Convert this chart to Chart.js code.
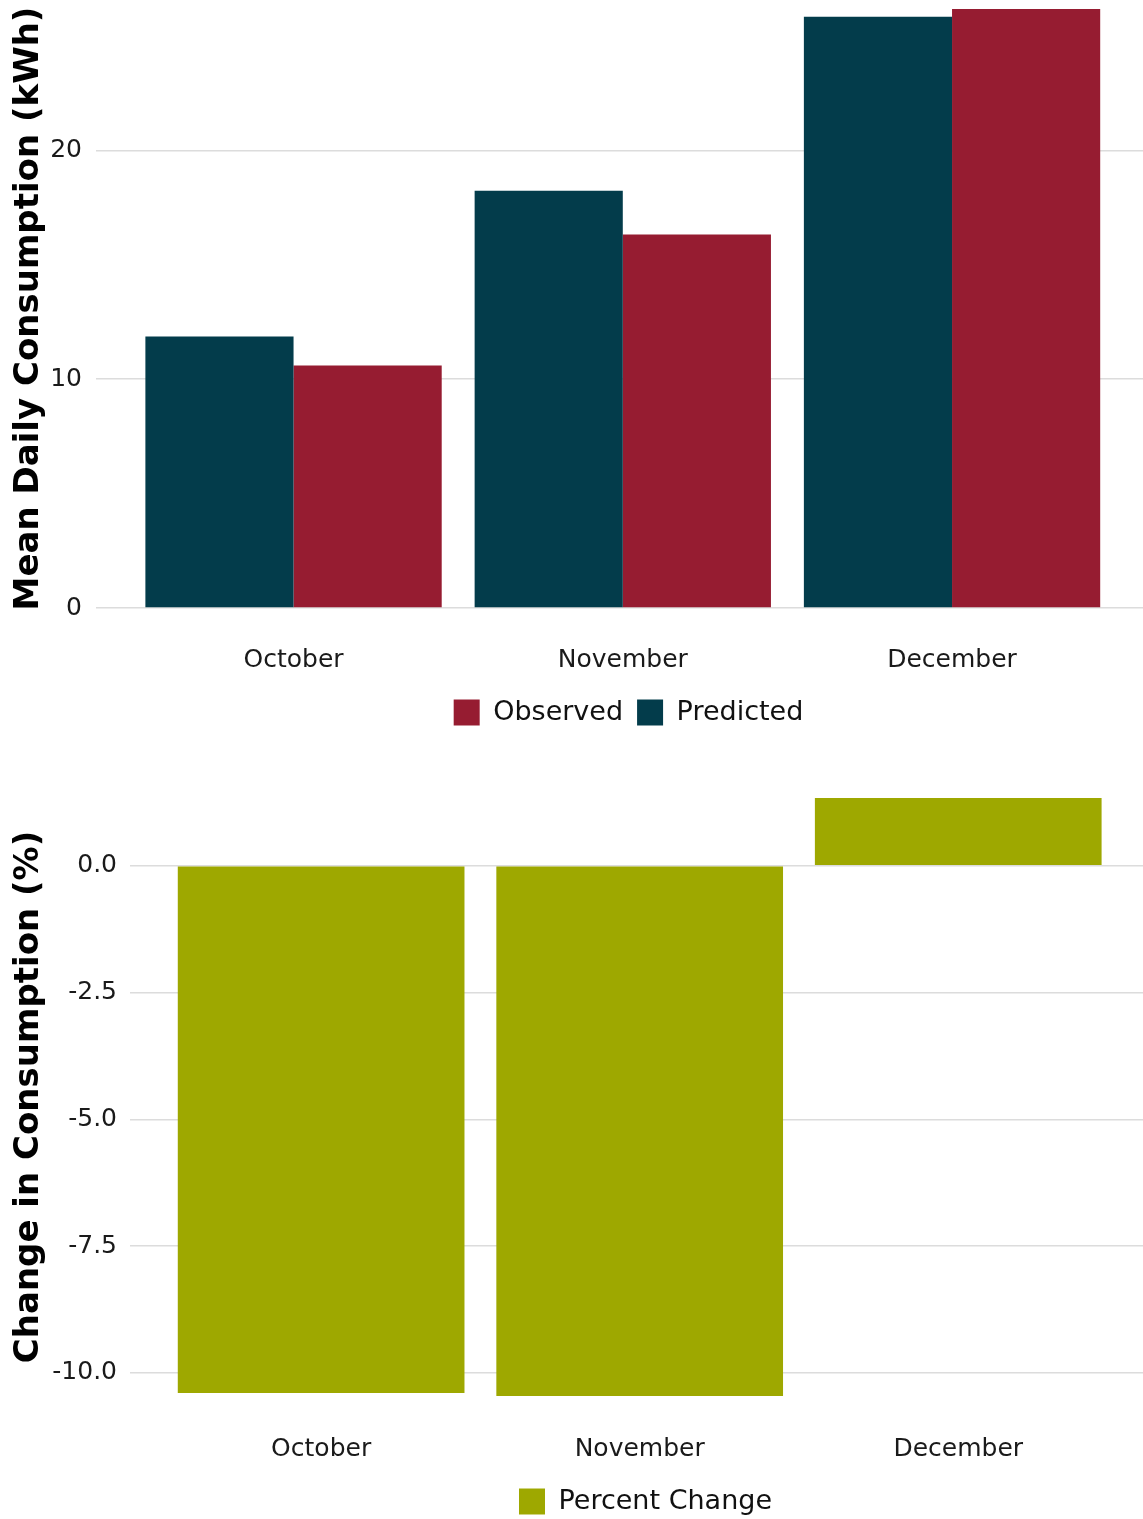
<!DOCTYPE html>
<html>
<head>
<meta charset="utf-8">
<script src="https://cdn.jsdelivr.net/npm/chart.js@4.4.1/dist/chart.umd.min.js"></script>
<style>
  body { margin: 0; background: #fff; overflow: hidden; }
  canvas { position: absolute; left: 0; }
  #consumption { top: 0; }
  #change { top: 736px; }
</style>
</head>
<body>
<canvas id="consumption" width="1143" height="736"></canvas>
<canvas id="change" width="1143" height="789"></canvas>
<script>
const months = ['October', 'November', 'December'];
const predicted = [11.87, 18.24, 25.84];
const observed = [10.60, 16.32, 26.18];
const percentChange = [-10.40, -10.46, 1.34];
const consumptionTicks = [0, 10, 20];
const changeTicks = [-10, -7.5, -5, -2.5, 0];

Chart.defaults.font.family = "'DejaVu Sans', sans-serif";
Chart.defaults.color = '#1a1a1a';
Chart.defaults.animation = false;

const gridColor = '#dcdcdc';

// ggplot centres the legend a little right of the panel middle
const nudgeLegend = {
    id: 'nudgeLegend',
    afterLayout(chart) {
        chart.legend.left += 9;
        chart.legend.right += 9;
    }
};

// months sit at x = 1, 2, 3 on a linear axis so the side padding can match ggplot
function monthPoints(values) {
    return values.map((v, i) => ({ x: i + 1, y: v }));
}

function monthAxis(labelPadding, axisHeight) {
    return {
        type: 'linear',
        offset: false,
        min: 0.4,
        max: 3.58,
        grid: { display: false },
        border: { display: false },
        afterBuildTicks: axis => { axis.ticks = months.map((m, i) => ({ value: i + 1 })); },
        afterFit: axis => {
            axis.height = axisHeight;
            axis.paddingLeft = 0;
            axis.paddingRight = 0;
        },
        ticks: {
            callback: v => months[v - 1],
            font: { size: 25 },
            padding: labelPadding,
            maxRotation: 0,
            autoSkip: false
        }
    };
}

function legendOpts(reverse) {
    return {
        position: 'bottom',
        fullSize: false,
        reverse: reverse,
        labels: {
            boxWidth: 26,
            boxHeight: 26,
            padding: 14,
            color: '#111',
            font: { size: 27 }
        }
    };
}

// top panel: observed vs predicted
new Chart(document.getElementById('consumption'), {
    type: 'bar',
    data: {
        datasets: [
            { label: 'Predicted', data: monthPoints(predicted), backgroundColor: '#033c4b' },
            { label: 'Observed', data: monthPoints(observed), backgroundColor: '#961c31' }
        ]
    },
    options: {
        responsive: false,
        layout: { padding: { top: 9, right: 0, bottom: 0, left: 0 } },
        datasets: { bar: { categoryPercentage: 0.9, barPercentage: 1.0 } },
        scales: {
            x: monthAxis(29, 77),
            y: {
                min: 0,
                max: Math.max(...predicted, ...observed),
                afterBuildTicks: axis => { axis.ticks = consumptionTicks.map(v => ({ value: v })); },
                afterFit: axis => {
                    axis.width = 96;
                    axis.paddingTop = 0;
                    axis.paddingBottom = 0;
                },
                grid: { color: gridColor, lineWidth: 1.5, drawTicks: false },
                border: { display: false },
                ticks: { font: { size: 25 }, padding: 14 },
                title: {
                    display: true,
                    text: 'Mean Daily Consumption (kWh)',
                    color: '#000',
                    font: { size: 34, weight: 'bold' },
                    padding: { top: 9, bottom: 0 }
                }
            }
        },
        plugins: {
            legend: legendOpts(true),
            tooltip: { enabled: false }
        }
    },
    plugins: [nudgeLegend]
});

// bottom panel: percent change, y range padded 5% like ggplot
const lo = Math.min(0, ...percentChange);
const hi = Math.max(0, ...percentChange);
const pad = (hi - lo) * 0.05;

new Chart(document.getElementById('change'), {
    type: 'bar',
    data: {
        datasets: [
            { label: 'Percent Change', data: monthPoints(percentChange), backgroundColor: '#9ea800' }
        ]
    },
    options: {
        responsive: false,
        layout: { padding: { top: 32, right: 0, bottom: 0, left: 0 } },
        datasets: { bar: { categoryPercentage: 0.9, barPercentage: 1.0 } },
        scales: {
            x: monthAxis(0, 48),
            y: {
                min: lo - pad,
                max: hi + pad,
                afterBuildTicks: axis => { axis.ticks = changeTicks.map(v => ({ value: v })); },
                afterFit: axis => {
                    axis.width = 130;
                    axis.paddingTop = 0;
                    axis.paddingBottom = 0;
                },
                grid: { color: gridColor, lineWidth: 1.5, drawTicks: false },
                border: { display: false },
                ticks: { font: { size: 25 }, padding: 13, callback: v => v.toFixed(1) },
                title: {
                    display: true,
                    text: 'Change in Consumption (%)',
                    color: '#000',
                    font: { size: 34, weight: 'bold' },
                    padding: { top: 9, bottom: 0 }
                }
            }
        },
        plugins: {
            legend: legendOpts(false),
            tooltip: { enabled: false }
        }
    },
    plugins: [nudgeLegend]
});
</script>
</body>
</html>
